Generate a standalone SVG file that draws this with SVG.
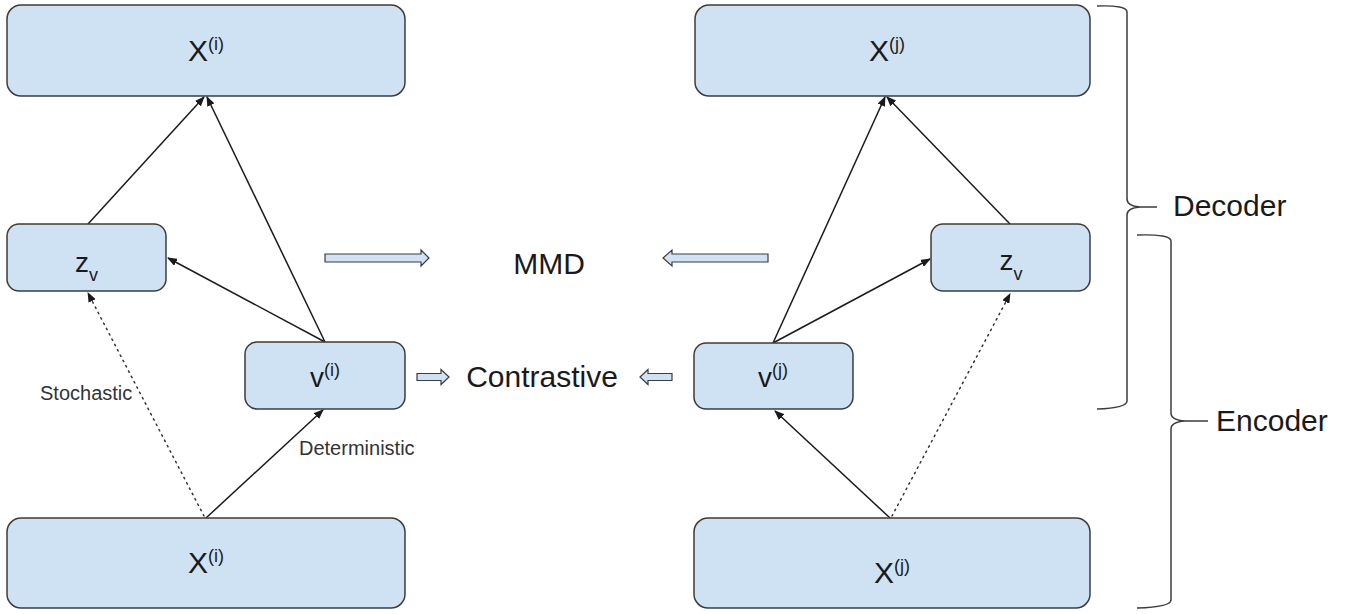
<svg xmlns="http://www.w3.org/2000/svg" width="1355" height="614" viewBox="0 0 1355 614">
<defs>
<style>
.box{fill:#cfe2f3;stroke:#3c3c3c;stroke-width:1.5}
.lbl{font-family:"Liberation Sans",Arial,sans-serif;fill:#1a1a1a}
.big{font-size:30px}
.sup{font-size:18px}
.small{font-family:"Liberation Sans",Arial,sans-serif;font-size:20px;fill:#333}
.edge{stroke:#1a1a1a;stroke-width:1.5;fill:none;marker-end:url(#ah)}
.dot{stroke:#333;stroke-width:1.5;fill:none;stroke-dasharray:1.5 4.5;stroke-linecap:round;marker-end:url(#ah)}
.blk{fill:#cfe2f3;stroke:#3c3c3c;stroke-width:1.2}
.brace{fill:none;stroke:#3c3c3c;stroke-width:1.5}
</style>
<marker id="ah" markerUnits="userSpaceOnUse" markerWidth="10" markerHeight="8" refX="9" refY="4" orient="auto">
<path d="M0,0 L10,4 L0,8 z" fill="#1a1a1a"/>
</marker>
</defs>
<rect width="1355" height="614" fill="#fff"/>

<g id="connectors">
<line class="edge" x1="88" y1="224" x2="204" y2="97"/>
<line class="edge" x1="325" y1="342" x2="207" y2="97"/>
<line class="edge" x1="325" y1="342" x2="168" y2="258"/>
<line class="edge" x1="206" y1="518" x2="323" y2="410"/>
<line class="dot" x1="204" y1="516" x2="88" y2="293"/>

<line class="edge" x1="773" y1="343" x2="885" y2="97"/>
<line class="edge" x1="1010" y1="224" x2="887" y2="97"/>
<line class="edge" x1="773" y1="343" x2="930" y2="259"/>
<line class="edge" x1="890" y1="518" x2="775" y2="411"/>
<line class="dot" x1="892" y1="516" x2="1010" y2="294"/>

<path class="blk" d="M325,254 L421,254 L421,250 L429,258 L421,266 L421,262 L325,262 z"/>
<path class="blk" d="M768,254 L672,254 L672,250 L663,258 L672,266 L672,262 L768,262 z"/>
<path class="blk" d="M417,373.5 L441,373.5 L441,369.5 L449,377 L441,384.5 L441,380.5 L417,380.5 z"/>
<path class="blk" d="M672,373.5 L648,373.5 L648,369.5 L640,377 L648,384.5 L648,380.5 L672,380.5 z"/>
</g>

<g id="x_i_top">
<rect class="box" x="7" y="5" width="398" height="91" rx="14"/>
<text class="lbl" x="206" y="61" text-anchor="middle"><tspan class="big">X</tspan><tspan class="sup" dy="-11">(i)</tspan></text>
</g>
<g id="x_j_top">
<rect class="box" x="695" y="5" width="395" height="91" rx="14"/>
<text class="lbl" x="887" y="61" text-anchor="middle"><tspan class="big">X</tspan><tspan class="sup" dy="-11">(j)</tspan></text>
</g>
<g id="z_v_left">
<rect class="box" x="7" y="224" width="159" height="67" rx="12"/>
<text class="lbl" x="86.5" y="272" text-anchor="middle"><tspan style="font-size:28px">z</tspan><tspan style="font-size:18px" dy="9">v</tspan></text>
</g>
<g id="v_i">
<rect class="box" x="245" y="342" width="160" height="67" rx="12"/>
<text class="lbl" x="325" y="387" text-anchor="middle"><tspan style="font-size:28px">v</tspan><tspan class="sup" dy="-11">(i)</tspan></text>
</g>
<g id="z_v_right">
<rect class="box" x="931" y="224" width="159" height="67" rx="12"/>
<text class="lbl" x="1011" y="270" text-anchor="middle"><tspan style="font-size:28px">z</tspan><tspan style="font-size:18px" dy="10">v</tspan></text>
</g>
<g id="v_j">
<rect class="box" x="694" y="343" width="159" height="66" rx="12"/>
<text class="lbl" x="773" y="387" text-anchor="middle"><tspan style="font-size:28px">v</tspan><tspan class="sup" dy="-11">(j)</tspan></text>
</g>
<g id="x_i_bottom">
<rect class="box" x="7" y="518" width="398" height="90" rx="14"/>
<text class="lbl" x="206" y="573" text-anchor="middle"><tspan class="big">X</tspan><tspan class="sup" dy="-11">(i)</tspan></text>
</g>
<g id="x_j_bottom">
<rect class="box" x="694" y="518" width="396" height="90" rx="14"/>
<text class="lbl" x="892" y="583" text-anchor="middle"><tspan class="big">X</tspan><tspan class="sup" dy="-11">(j)</tspan></text>
</g>

<g id="mmd">
<text class="lbl big" x="549" y="274" text-anchor="middle">MMD</text>
</g>
<g id="contrastive">
<text class="lbl big" x="542" y="387" text-anchor="middle">Contrastive</text>
</g>
<g id="labels">
<text class="small" x="40" y="400">Stochastic</text>
<text class="small" x="299" y="455">Deterministic</text>
</g>

<g id="decoder">
<path class="brace" d="M1097,6 Q1127,5 1127,12 L1127,199 Q1127,206 1140,207 L1157,207 M1140,207 Q1127,208 1127,215 L1127,401 Q1127,408 1097,409"/>
<text class="lbl big" x="1173" y="216">Decoder</text>
</g>
<g id="encoder">
<path class="brace" d="M1137,235 Q1171,234 1171,241 L1171,413 Q1171,420 1185,421 L1208,421 M1185,421 Q1171,422 1171,429 L1171,600 Q1171,607 1137,608"/>
<text class="lbl big" x="1216" y="431">Encoder</text>
</g>
</svg>
